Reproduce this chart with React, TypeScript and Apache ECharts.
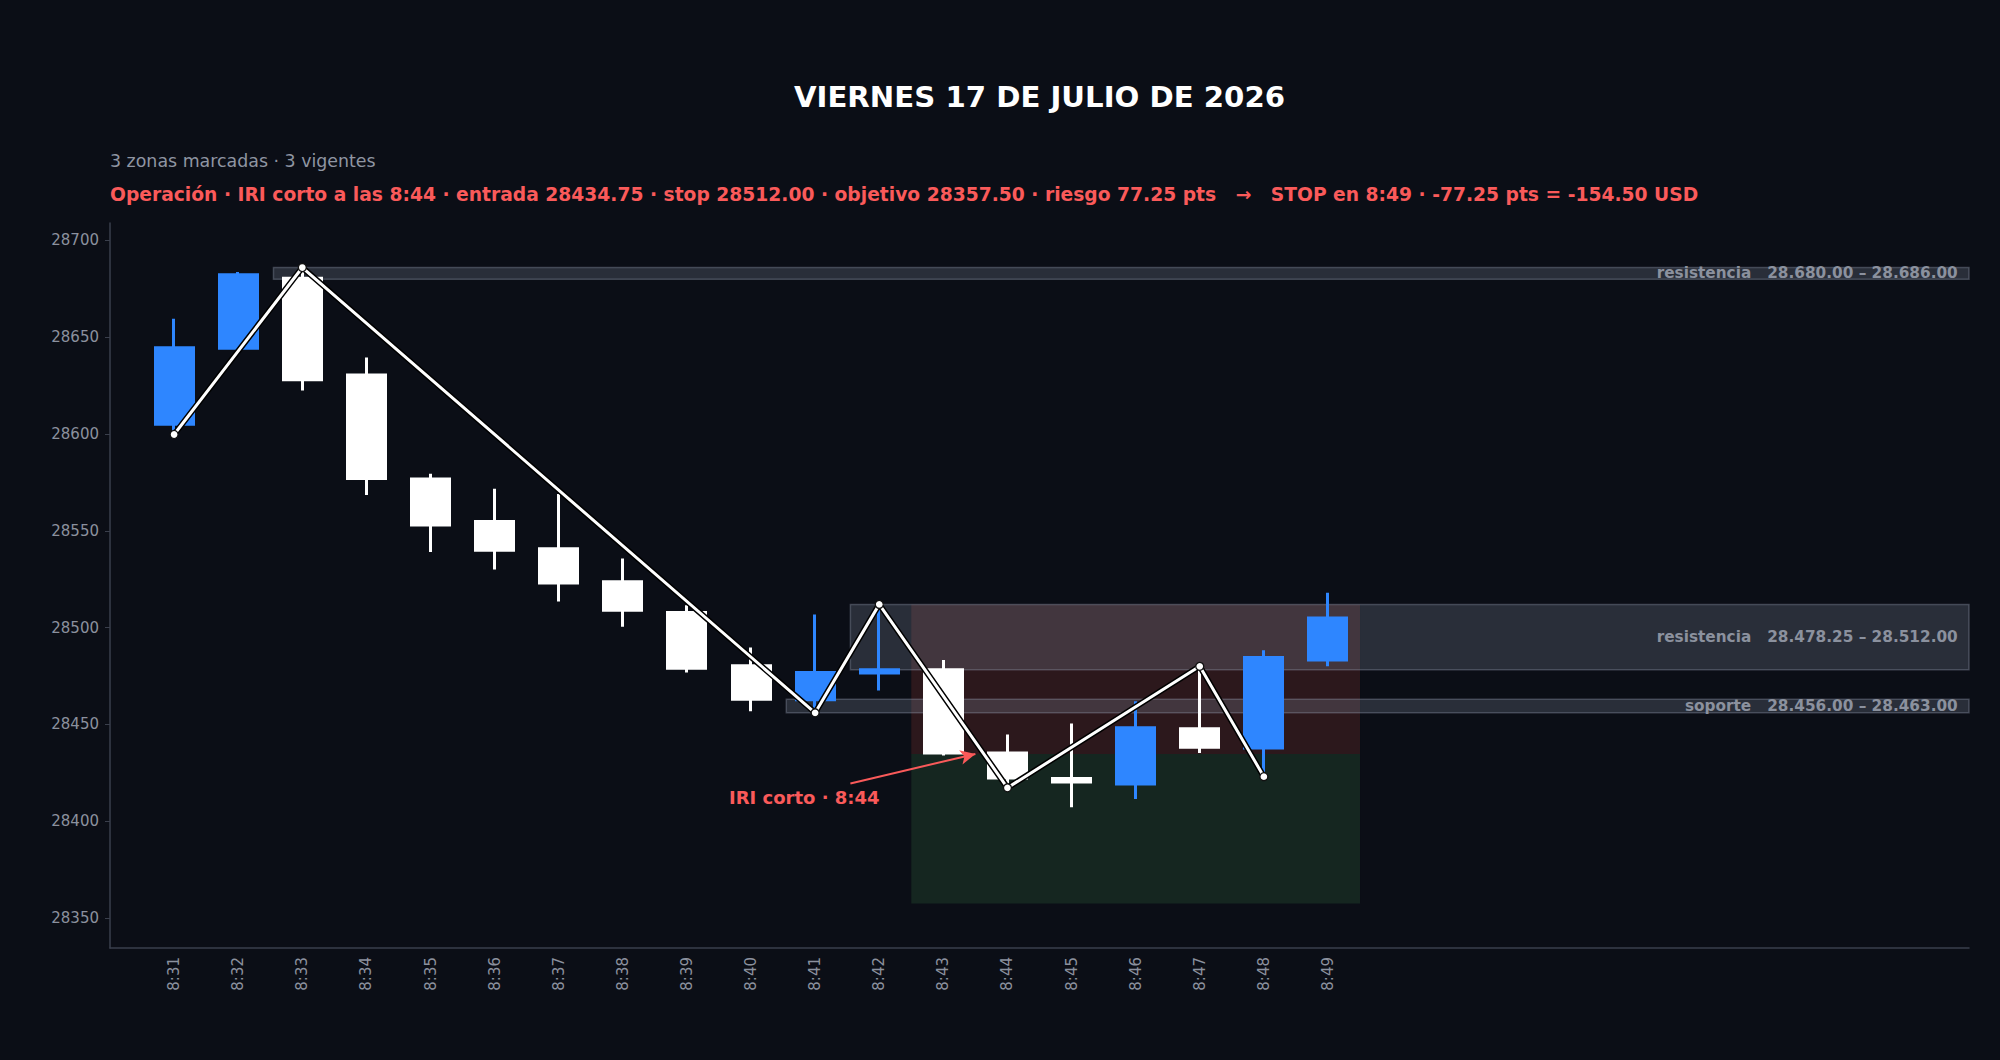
import React, { useEffect, useRef } from "react";
import * as echarts from "echarts";

// ---- data ----
const times = ["8:31", "8:32", "8:33", "8:34", "8:35", "8:36", "8:37", "8:38", "8:39", "8:40", "8:41", "8:42", "8:43", "8:44", "8:45", "8:46", "8:47", "8:48", "8:49"];
const opens = [28605, 28644.25, 28680.5, 28630.5, 28576.75, 28554.75, 28540.75, 28523.75, 28507.75, 28480.25, 28462.75, 28476.5, 28478.25, 28435.25, 28422, 28419.25, 28447.75, 28437.75, 28483.25];
const closes = [28644.5, 28682.25, 28628, 28577, 28553, 28540, 28523, 28509, 28479, 28463, 28476.75, 28478.25, 28435.25, 28422.25, 28420.25, 28448.25, 28438.25, 28484.5, 28505];
const lows = [28599.75, 28643.5, 28622.5, 28568.5, 28539, 28530, 28513.5, 28500.5, 28476.75, 28456.75, 28456, 28467.5, 28434, 28417.25, 28407.25, 28411.5, 28435.25, 28423, 28480];
const highs = [28659.5, 28683.75, 28686, 28639.5, 28579.5, 28571.75, 28569, 28535.75, 28511.5, 28489.75, 28506.75, 28512, 28483.25, 28444.75, 28450.5, 28462, 28480, 28488.25, 28518];

const pivotIdx = [0, 2, 10, 11, 13, 16, 17];
const pivotVals = [28599.75, 28686, 28456, 28512, 28417.25, 28480, 28423];

const yTicks = [28350, 28400, 28450, 28500, 28550, 28600, 28650, 28700];

const zoneKinds = ["resistencia", "resistencia", "soporte"];
const zoneLows = [28680, 28478.25, 28456];
const zoneHighs = [28686, 28512, 28463];
const zoneStarts = [1.55, 10.55, 9.55];

const entryPrice = 28434.75;
const stopPrice = 28512;
const targetPrice = 28357.5;
const tradeFrom = 11.5;
const tradeTo = 18.5;

const arrowFrom = [10.55, 28419.5];
const arrowTo = [12.5, 28434.75];
const noteAt = [9.83, 28412];
const noteText = "IRI corto · 8:44";

const titleText = "VIERNES 17 DE JULIO DE 2026";
const subText = "3 zonas marcadas · 3 vigentes";
const opText =
  "Operación · IRI corto a las 8:44 · entrada 28434.75 · stop 28512.00 · objetivo 28357.50 · riesgo 77.25 pts   →   STOP en 8:49 · -77.25 pts = -154.50 USD";

// ---- style ----
const BG = "#0b0e16";
const FONT = "DejaVu Sans";
const AXIS = "#3a3f4c";
const LABEL = "#8b919e";
const RED = "#fa5a5a";
const BLUE = "#2e86ff";

function fmtZone(n: number) {
  const [int, dec] = n.toFixed(2).split(".");
  const withSep = int.replace(/\B(?=(\d{3})+(?!\d))/g, ".");
  return withSep + "." + dec;
}

export default function App() {
  const ref = useRef<HTMLDivElement>(null);
  useEffect(() => {
    const chart = echarts.init(ref.current!, null, { renderer: "svg" });
    const candleData = times.map((_, i) => [i, opens[i], closes[i], lows[i], highs[i]]);
    const pivots = pivotIdx.map((x, i) => [x, pivotVals[i]]);

    const zoneAreas = zoneKinds.map((k, i) => [
      {
        xAxis: zoneStarts[i],
        yAxis: zoneLows[i],
        label: {
          show: true,
          position: "insideRight",
          distance: 12,
          formatter: `${k}   ${fmtZone(zoneLows[i])} – ${fmtZone(zoneHighs[i])}`,
          color: LABEL,
          fontSize: 15.3,
          fontWeight: "bold",
          fontFamily: FONT,
        },
      },
      { xAxis: 28, yAxis: zoneHighs[i] },
    ]);

    const option: any = {
      animation: false,
      backgroundColor: BG,
      textStyle: { fontFamily: FONT },
      grid: { left: 110, right: 31, top: 223, bottom: 112 },
      xAxis: {
        type: "value",
        min: -1,
        max: 28,
        splitLine: { show: false },
        axisLine: { show: true, onZero: false, lineStyle: { color: AXIS, width: 1.5 } },
        axisTick: { show: false },
        axisLabel: {
          customValues: times.map((_, i) => i),
          formatter: (v: number) => times[Math.round(v)] ?? "",
          rotate: 90,
          color: LABEL,
          fontSize: 15,
          margin: 9,
          fontFamily: FONT,
        },
      },
      yAxis: {
        type: "value",
        min: 28334.5,
        max: 28709,
        scale: true,
        splitLine: { show: false },
        axisLine: { show: true, onZero: false, lineStyle: { color: AXIS, width: 1.5 } },
        axisTick: { show: true, length: 5, customValues: yTicks, lineStyle: { color: AXIS } },
        axisLabel: {
          customValues: yTicks,
          formatter: (v: number) => String(v),
          color: LABEL,
          fontSize: 15,
          margin: 11,
          fontFamily: FONT,
        },
      },
      graphic: [
        {
          type: "text",
          x: 1039.5,
          y: 97,
          style: { text: titleText, fill: "#ffffff", font: `bold 29.2px ${FONT}`, align: "center", verticalAlign: "middle" },
        },
        {
          type: "text",
          x: 110,
          y: 161,
          style: { text: subText, fill: "#8f95a2", font: `17.4px ${FONT}`, align: "left", verticalAlign: "middle" },
        },
        {
          type: "text",
          x: 110,
          y: 194,
          style: { text: opText, fill: RED, font: `bold 18.7px ${FONT}`, align: "left", verticalAlign: "middle" },
        },
      ],
      series: [
        {
          type: "line",
          data: [],
          z: 1,
          silent: true,
          markArea: {
            silent: true,
            data: [
              [
                { xAxis: tradeFrom, yAxis: entryPrice, itemStyle: { color: "#2c181c" } },
                { xAxis: tradeTo, yAxis: stopPrice },
              ],
              [
                { xAxis: tradeFrom, yAxis: targetPrice, itemStyle: { color: "#152620" } },
                { xAxis: tradeTo, yAxis: entryPrice },
              ],
            ],
          },
        },
        {
          type: "line",
          data: [],
          z: 2,
          silent: true,
          markArea: {
            silent: true,
            itemStyle: {
              color: "rgba(140,150,172,0.24)",
              borderColor: "rgba(150,158,178,0.35)",
              borderWidth: 1.5,
            },
            data: zoneAreas,
          },
        },
        {
          type: "candlestick",
          z: 3,
          data: candleData,
          encode: { x: 0, y: [1, 2, 3, 4] },
          barWidth: 38.5,
          itemStyle: {
            color: BLUE,
            color0: "#ffffff",
            borderColor: BLUE,
            borderColor0: "#ffffff",
            borderWidth: 3,
          },
        },
        {
          type: "line",
          z: 4,
          data: pivots,
          symbol: "none",
          silent: true,
          lineStyle: { color: "#000000", width: 6 },
        },
        {
          type: "line",
          z: 5,
          data: pivots,
          symbol: "circle",
          symbolSize: 8,
          silent: true,
          itemStyle: { color: "#ffffff", borderColor: "#111111", borderWidth: 1.3 },
          lineStyle: { color: "#ffffff", width: 3 },
        },
        {
          type: "line",
          data: [],
          z: 6,
          silent: true,
          markLine: {
            silent: true,
            animation: false,
            lineStyle: { color: RED, width: 2, type: "solid" },
            label: { show: false },
            data: [
              [
                { coord: arrowFrom, symbol: "none" },
                { coord: arrowTo, symbol: "arrow", symbolSize: [11, 15] },
              ],
            ],
          },
          markPoint: {
            silent: true,
            symbol: "circle",
            symbolSize: 1,
            itemStyle: { color: "rgba(0,0,0,0)" },
            label: {
              show: true,
              position: "inside",
              formatter: noteText,
              color: RED,
              fontSize: 18,
              fontWeight: "bold",
              fontFamily: FONT,
            },
            data: [{ coord: noteAt }],
          },
        },
      ],
    };
    chart.setOption(option);
    return () => chart.dispose();
  }, []);
  return (
    <div
      ref={ref}
      style={{ position: "absolute", left: 0, top: 0, width: 2000, height: 1060, background: BG }}
    />
  );
}
